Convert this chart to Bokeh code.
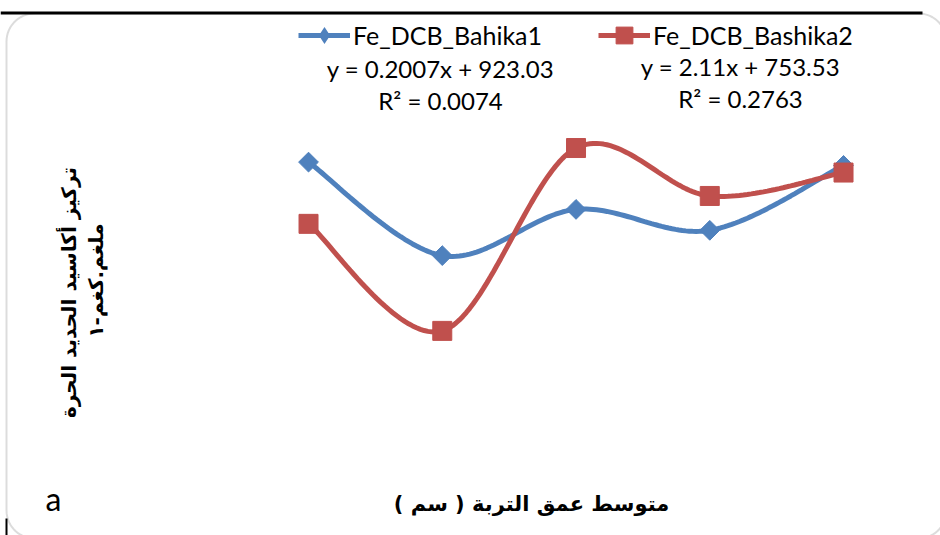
import numpy as np
from bokeh.plotting import figure
from bokeh.models import Range1d, Legend, LegendItem, Label, BoxAnnotation, PolyAnnotation
from bokeh.embed import file_html
from bokeh.resources import INLINE

# ---------------- data ----------------
depth_idx = [1, 2, 3, 4, 5]
fe_bahika1 = [927.5, 919.0, 923.2, 921.3, 927.2]
fe_bashika2 = [759.0, 749.4, 765.8, 761.5, 763.6]
series_names = ["Fe_DCB_Bahika1", "Fe_DCB_Bashika2"]
trend1 = ["y = 0.2007x + 923.03", "R² = 0.0074"]
trend2 = ["y = 2.11x + 753.53", "R² = 0.2763"]
x_label = "متوسط عمق التربة ( سم )"
y_label_1 = "تركيز أكاسيد الحديد الحرة"
y_label_2 = "ملغم.كغم-١"
panel_tag = "a"

BLUE = "#4F81BD"
RED = "#C0504D"
W, H = 940, 535


def smooth(xs, ys, n=40):
    """Excel-like smoothed line (Catmull-Rom cubic Bezier segments)."""
    xs = np.asarray(xs, float)
    ys = np.asarray(ys, float)
    px = np.concatenate([[xs[0]], xs, [xs[-1]]])
    py = np.concatenate([[ys[0]], ys, [ys[-1]]])
    t = np.linspace(0, 1, n)
    ox, oy = [], []
    for i in range(len(xs) - 1):
        p0x, p0y = px[i + 1], py[i + 1]
        p1x, p1y = px[i + 2], py[i + 2]
        c1x = p0x + (p1x - px[i]) / 6.0
        c1y = p0y + (p1y - py[i]) / 6.0
        c2x = p1x - (px[i + 3] - p0x) / 6.0
        c2y = p1y - (py[i + 3] - p0y) / 6.0
        bx = (1 - t) ** 3 * p0x + 3 * (1 - t) ** 2 * t * c1x + 3 * (1 - t) * t ** 2 * c2x + t ** 3 * p1x
        by = (1 - t) ** 3 * p0y + 3 * (1 - t) ** 2 * t * c1y + 3 * (1 - t) * t ** 2 * c2y + t ** 3 * p1y
        if i > 0:
            bx, by = bx[1:], by[1:]
        ox.extend(bx)
        oy.extend(by)
    return ox, oy


def rounded_rect(left, right, bottom, top, r, n=16):
    """Outline of a rounded rectangle in screen units (y up)."""
    xs, ys = [], []
    corners = [(right - r, top - r, 0.0), (left + r, top - r, 0.5 * np.pi),
               (left + r, bottom + r, np.pi), (right - r, bottom + r, 1.5 * np.pi)]
    for cx, cy, a0 in corners:
        a = np.linspace(a0, a0 + 0.5 * np.pi, n)
        xs.extend(cx + r * np.cos(a))
        ys.extend(cy + r * np.sin(a))
    return xs, ys


p = figure(width=W, height=H,
           x_range=Range1d(-1.303, 5.725),
           y_range=Range1d(893.56, 942.19),
           output_backend="svg", toolbar_location=None,
           x_axis_location=None, y_axis_location=None,
           min_border=0)
p.extra_y_ranges = {"r": Range1d(731.05, 779.03)}
p.xgrid.grid_line_color = None
p.ygrid.grid_line_color = None
p.outline_line_color = None
p.background_fill_color = "white"
p.border_fill_color = "white"

# frame decorations
bx_, by_ = rounded_rect(6, 946, -3, 522, 28)
p.add_layout(PolyAnnotation(xs=bx_, ys=by_, xs_units="screen", ys_units="screen",
                            fill_alpha=0, line_color="#8C8C8C", line_width=2))
scr = dict(left_units="screen", right_units="screen",
           top_units="screen", bottom_units="screen")
p.add_layout(BoxAnnotation(left=0, right=922, top=524, bottom=521,
                           fill_color="black", fill_alpha=1, line_color=None, **scr))
p.add_layout(BoxAnnotation(left=5, right=7, top=17, bottom=0,
                           fill_color="black", fill_alpha=1, line_color=None, **scr))

# series
sx, sy = smooth(depth_idx, fe_bahika1)
bl = p.line(sx, sy, line_color=BLUE, line_width=5)
bd = p.scatter(depth_idx, fe_bahika1, marker="diamond", size=19,
               fill_color=BLUE, line_color=None)
bm = p.scatter(depth_idx, fe_bahika1, marker="square", angle=np.pi / 4,
               size=14, fill_color=BLUE, line_color=BLUE)

rx, ry = smooth(depth_idx, fe_bashika2)
rl = p.line(rx, ry, line_color=RED, line_width=5, y_range_name="r")
rm = p.scatter(depth_idx, fe_bashika2, marker="square", size=19,
               fill_color=RED, line_color=RED, y_range_name="r")

# legends
common = dict(orientation="horizontal", glyph_width=52, glyph_height=42,
              label_standoff=3, padding=0, margin=0, border_line_color=None,
              background_fill_alpha=0, label_text_font="Lato",
              label_text_font_size="25px", label_text_color="black")
leg1 = Legend(items=[LegendItem(label=series_names[0], renderers=[bl, bd])],
              location=(298, 479), **common)
leg2 = Legend(items=[LegendItem(label=series_names[1], renderers=[rl, rm])],
              location=(598, 479), **common)
p.add_layout(leg1)
p.add_layout(leg2)


def lab(x, y, text, font="Lato", size="24px", style="normal", angle=0.0):
    p.add_layout(Label(x=x, y=y, x_units="screen", y_units="screen", text=text,
                       text_align="center", text_baseline="middle",
                       text_font=font, text_font_size=size,
                       text_font_style=style, text_color="black", angle=angle))


lab(440, 467, trend1[0])
lab(440, 435, trend1[1])
lab(740, 469, trend2[0])
lab(740, 437, trend2[1])

lab(531, 32, x_label, font="DejaVu Sans", size="21px", style="bold")
lab(68, 243, y_label_1, font="DejaVu Sans", size="20px", style="bold", angle=np.pi / 2)
lab(95, 255, y_label_2, font="DejaVu Sans", size="20px", style="bold", angle=np.pi / 2)
lab(53, 37, panel_tag, size="32px")

open("out.html", "w").write(file_html(p, INLINE))
